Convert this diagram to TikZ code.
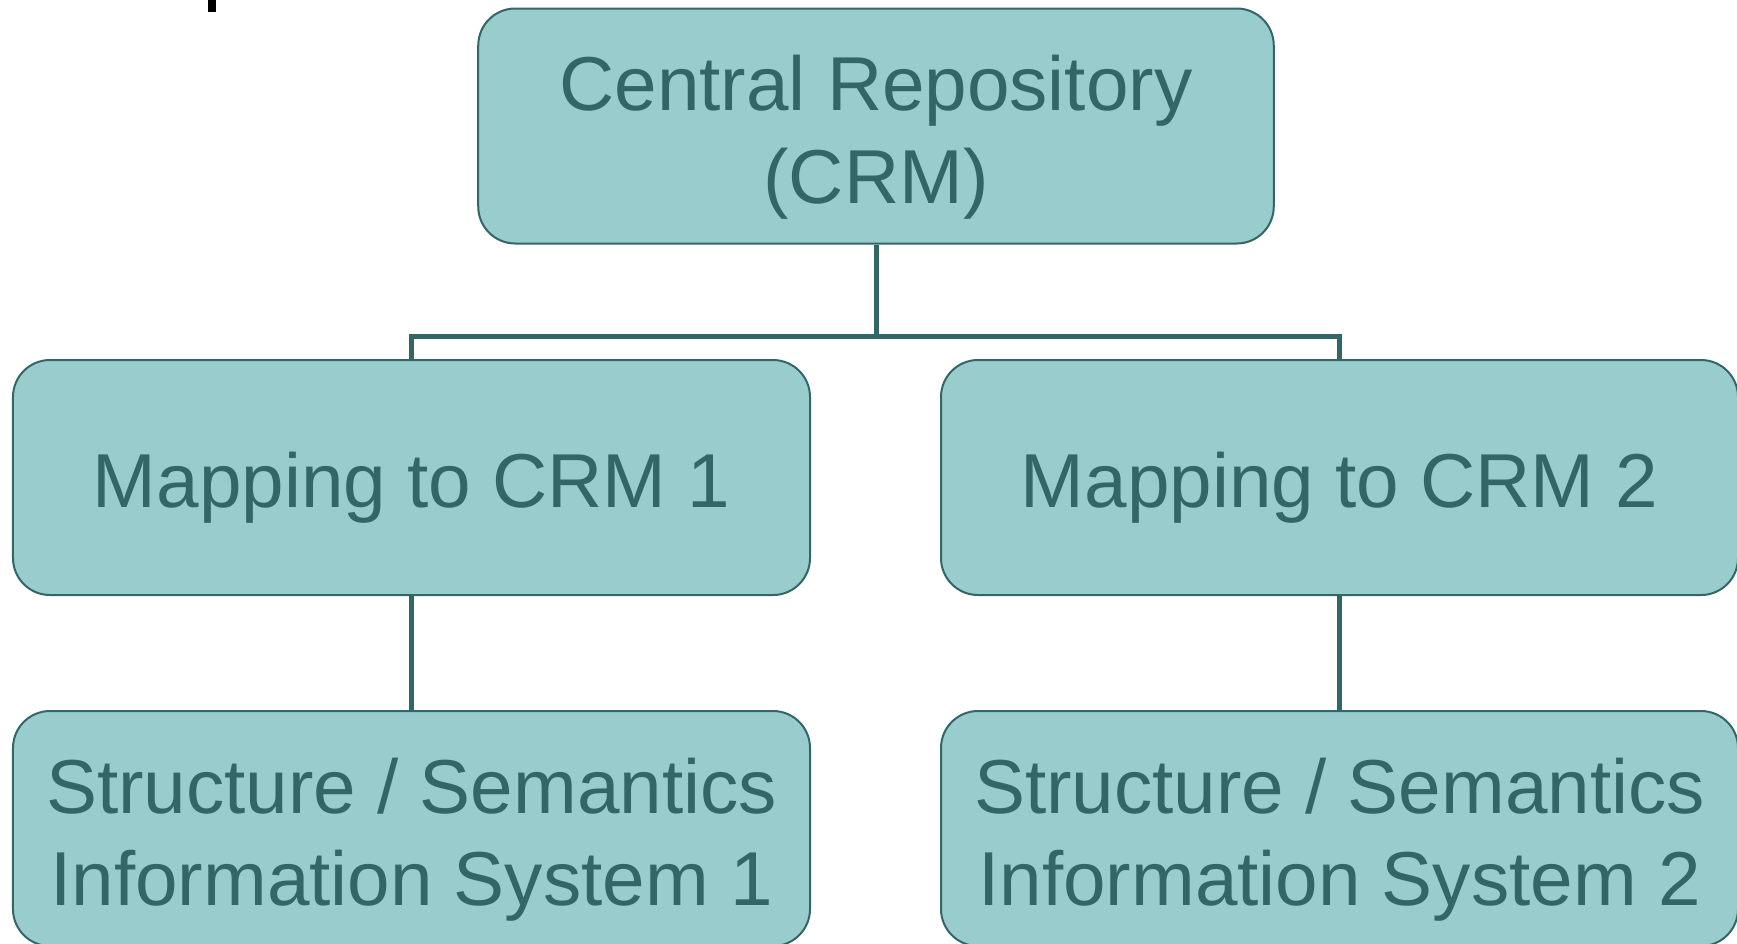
\documentclass[tikz,border=0pt]{standalone}
\usepackage{fontspec}
\setmainfont{Liberation Sans}
\definecolor{boxfill}{HTML}{99CCCC}
\definecolor{boxline}{HTML}{336666}
\tikzset{
  crmbox/.style={draw=boxline,fill=boxfill,line width=0.4mm,rounded corners=7.4mm,
    minimum width=159.4mm,minimum height=47mm,inner sep=0pt,align=center,
    text=boxline,font=\fontsize{43.5pt}{52.5pt}\selectfont},
  twoline/.style={text height=30.8mm,text depth=0pt},
  oneline/.style={text height=11.8mm,text depth=0pt},
  link/.style={draw=boxline,line width=1mm}
}
\begin{document}
\begin{tikzpicture}[x=0.2mm,y=-0.2mm]
% 1737 x 943 px, one px = 0.2mm
\useasboundingbox (0,0) rectangle (1737,943);
\fill[black] (208,0) rectangle (215.5,12);
\node[crmbox,twoline,minimum width=159.1mm] (crm) at (876,126) {Central Repository\\(CRM)};
\node[crmbox,oneline] (map1) at (411.5,477.5) {Mapping to CRM 1};
\node[crmbox,oneline] (map2) at (1339.5,477.5) {Mapping to CRM 2};
\node[crmbox,twoline] (sys1) at (411.5,828.5) {Structure / Semantics\\Information System 1};
\node[crmbox,twoline] (sys2) at (1339.5,828.5) {Structure / Semantics\\Information System 2};
\coordinate (bar) at (876,336);
\draw[link] (crm.south) -- (bar);
\draw[link] (map1.north) |- (bar) -| (map2.north);
\draw[link] (map1.south) -- (sys1.north);
\draw[link] (map2.south) -- (sys2.north);
\end{tikzpicture}
\end{document}
